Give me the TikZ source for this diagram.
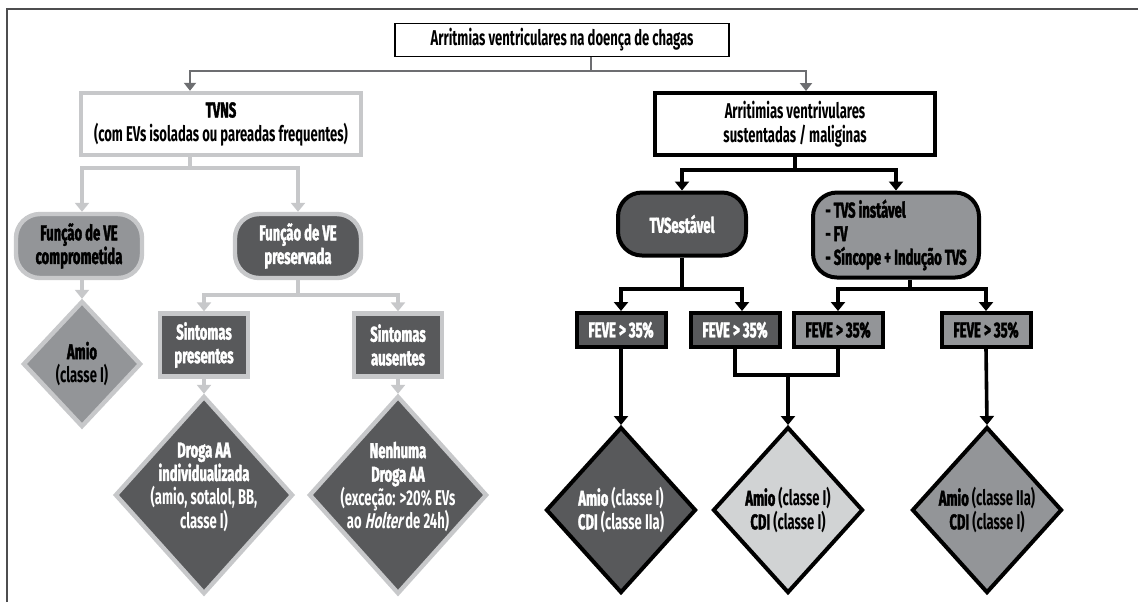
\documentclass[tikz,border=0pt]{standalone}
\usepackage{fontspec}
\setmainfont{Fira Sans}[FakeStretch=0.61, UprightFont={* Bold}, BoldFont={* Bold}, BoldFeatures={FakeBold=1.8}, ItalicFont={* Bold}, ItalicFeatures={FakeSlant=0.2}]
\usetikzlibrary{shapes.geometric,arrows.meta}
\lineskiplimit=-6pt

\definecolor{cdark}{HTML}{58595B}
\definecolor{cmid}{HTML}{939598}
\definecolor{clight}{HTML}{C7C8CA}
\definecolor{cpale}{HTML}{D1D3D4}
\definecolor{cline}{HTML}{6D6E71}
\definecolor{cframe}{HTML}{4D4D4F}

\begin{document}
\begin{tikzpicture}
            \tikzset{x=0.5pt, y=-0.5pt}
            \tikzset{every node/.style={font=\fontsize{10.7}{11.8}\selectfont, align=center}}
            \tikzstyle{titlebox}=[rectangle, draw, line width=0.7pt, minimum width=167pt, minimum height=16.5pt, inner sep=1pt]
            \tikzstyle{lbox}=[rectangle, draw=clight, line width=2.2pt, fill=white, inner sep=1pt]
            \tikzstyle{rbox}=[rectangle, draw=black, line width=2pt, fill=white, inner sep=1pt]
            \tikzstyle{lround}=[rectangle, rounded corners=12pt, draw=clight, line width=2.2pt, minimum width=63pt, minimum height=32pt, inner sep=1pt, font=\fontsize{10.7}{11.8}\selectfont\bfseries]
            \tikzstyle{rround}=[rectangle, rounded corners=12pt, draw=black, line width=2pt, inner sep=1pt, font=\fontsize{10.7}{11.8}\selectfont\bfseries]
            \tikzstyle{sint}=[rectangle, draw=clight, line width=2.2pt, fill=cdark, text=white, minimum width=44pt, minimum height=31.5pt, inner sep=1pt, font=\fontsize{10.7}{11.8}\selectfont\bfseries]
            \tikzstyle{feve}=[rectangle, draw=black, line width=2pt, minimum width=44.5pt, minimum height=17pt, inner sep=1pt, font=\fontsize{10.7}{11.8}\selectfont\bfseries]
            \tikzstyle{ldia}=[diamond, draw=clight, line width=2.2pt, inner sep=0pt]
            \tikzstyle{rdia}=[diamond, draw=black, line width=2pt, minimum width=75pt, minimum height=83pt, inner sep=0pt]
            \tikzstyle{gcon}=[draw=cline, line width=1.4pt, -{Triangle[width=6pt, length=4pt]}]
            \tikzstyle{lcon}=[draw=clight, line width=2.2pt, -{Triangle[width=7pt, length=4.5pt]}]
            \tikzstyle{bcon}=[draw=black, line width=1.8pt, -{Triangle[width=7pt, length=4.5pt]}]

            \useasboundingbox (0,0) rectangle (1138,602);
            \draw[cframe, line width=1pt] (7,602) -- (7,9) -- (1138,9);

            % top
            \draw (562, 40)     node[titlebox]  (top)   {Arritmias ventriculares na doença de chagas};

            % left branch
            \draw (221, 124)    node[lbox, minimum width=140pt, minimum height=31pt]  (tvns)
                {\bfseries TVNS\\(com EVs isoladas ou pareadas frequentes)};
            \draw (79, 246)     node[lround, fill=cmid]               (comp)  {Função de VE\\comprometida};
            \draw (298, 246)    node[lround, fill=cdark, text=white]  (pres)  {Função de VE\\preservada};
            \draw (82, 364)     node[ldia, fill=cmid, minimum width=59pt, minimum height=63pt,
                label={center:{\bfseries Amio\\(classe I)}}] (amio) {};
            \draw (204, 345)    node[sint]      (spres) {Sintomas\\presentes};
            \draw (398, 345)    node[sint]      (saus)  {Sintomas\\ausentes};
            \draw (204, 495)    node[ldia, fill=cdark, minimum width=89pt, minimum height=99pt,
                label={[text=white, yshift=4pt]center:{\bfseries Droga AA\\\bfseries individualizada\\(amio, sotalol, BB,\\classe I)}}] (droga) {};
            \draw (398, 495)    node[ldia, fill=cdark, minimum width=89pt, minimum height=99pt,
                label={[text=white, yshift=4pt]center:{\bfseries Nenhuma\\\bfseries Droga AA\\(exceção: >20\% EVs\\ao \textit{Holter} de 24h)}}] (nenh) {};

            % right branch
            \draw (795, 124)    node[rbox, minimum width=140pt, minimum height=31pt]  (sav)
                {Arritimias ventrivulares\\sustentadas / maliginas};
            \draw (682, 224)    node[rround, fill=cdark, text=white, minimum width=64pt, minimum height=31.5pt] (tvse) {TVSestável};
            \draw (896, 235)    node[rround, fill=cmid, minimum width=83pt, minimum height=42.5pt, align=left] (tvsi)
                {- TVS instável\\- FV\\- Síncope + Indução TVS};
            \draw (621, 330)    node[feve, fill=cdark, text=white]  (fe1)   {FEVE > 35\%};
            \draw (735, 330)    node[feve, fill=cdark, text=white]  (fe2)   {FEVE > 35\%};
            \draw (838, 330)    node[feve, fill=cmid]               (fe3)   {FEVE > 35\%};
            \draw (986, 330)    node[feve, fill=cmid]               (fe4)   {FEVE > 35\%};
            \draw (621, 510)    node[rdia, fill=cdark,
                label={[text=white]center:{\textbf{Amio} (classe I)\\\textbf{CDI} (classe IIa)}}] (dd1) {};
            \draw (788, 510)    node[rdia, fill=cpale,
                label={center:{\textbf{Amio} (classe I)\\\textbf{CDI} (classe I)}}] (dd2) {};
            \draw (987, 510)    node[rdia, fill=cmid,
                label={center:{\textbf{Amio} (classe IIa)\\\textbf{CDI} (classe I)}}] (dd3) {};

            % connectors
            \coordinate (tsplit) at (591, 71);
            \draw[gcon, -] ([xshift=14.5pt]top.south) -- (tsplit);
            \draw[gcon] (tsplit) -| ([xshift=-15.5pt]tvns.north);
            \draw[gcon] (tsplit) -| ([xshift=5.5pt]sav.north);

            \coordinate (lsplit) at (190, 168);
            \draw[lcon, -] ([xshift=-15.5pt]tvns.south) -- (lsplit);
            \draw[lcon] (lsplit) -| ([xshift=1.5pt]comp.north);
            \draw[lcon] (lsplit) -| (pres.north);
            \draw[lcon] (comp.south -| amio.north) -- (amio.north);
            \coordinate (psplit) at (298, 295);
            \draw[lcon, -] (pres.south) -- (psplit);
            \draw[lcon] (psplit) -| (spres.north);
            \draw[lcon] (psplit) -| (saus.north);
            \draw[lcon] (spres.south) -- (droga.north);
            \draw[lcon] (saus.south) -- (nenh.north);

            \coordinate (rsplit) at (795, 170);
            \draw[bcon, -] (sav.south) -- (rsplit);
            \draw[bcon] (rsplit) -| (tvse.north);
            \draw[bcon] (rsplit) -| (tvsi.north);
            \coordinate (esplit) at (682, 289);
            \draw[bcon, -] (tvse.south) -- (esplit);
            \draw[bcon] (esplit) -| (fe1.north);
            \draw[bcon] (esplit) -| ([xshift=3.5pt]fe2.north);
            \coordinate (isplit) at (910, 289);
            \draw[bcon, -] ([xshift=7pt]tvsi.south) -- (isplit);
            \draw[bcon] (isplit) -| (fe3.north);
            \draw[bcon] (isplit) -| (fe4.north);
            \coordinate (msplit) at (788, 375);
            \draw[bcon, -] (fe2.south) |- (msplit) -| (fe3.south);
            \draw[bcon] (msplit) -- (dd2.north);
            \draw[bcon] (fe1.south) -- (dd1.north);
            \draw[bcon] (fe4.south) -- (dd3.north);
        \end{tikzpicture}
\end{document}
